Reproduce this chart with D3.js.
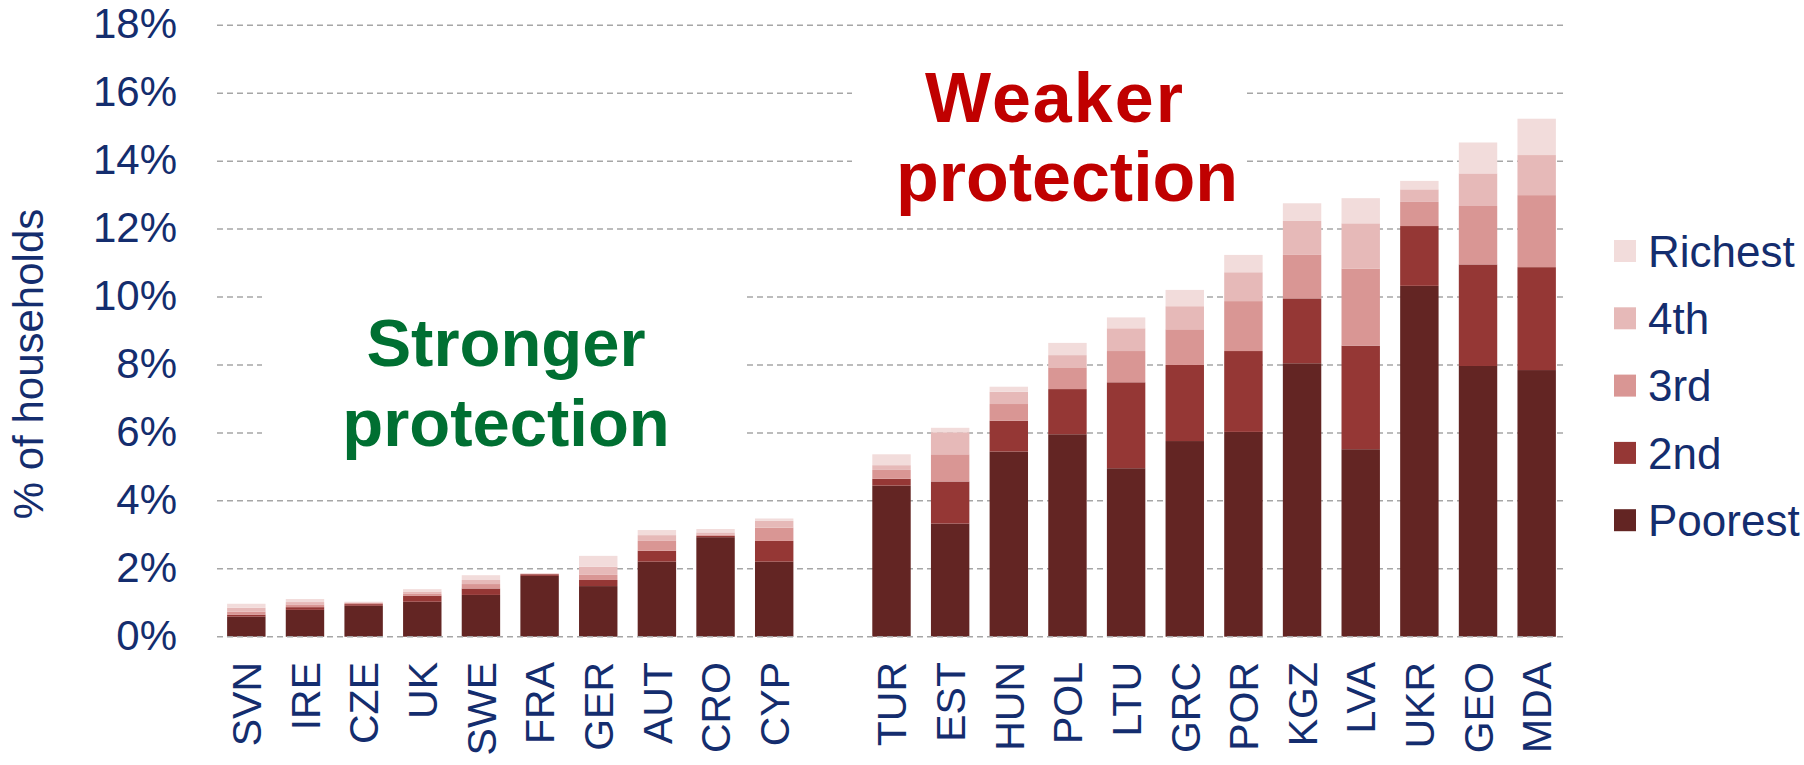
<!DOCTYPE html>
<html>
<head>
<meta charset="utf-8">
<script src="https://cdn.jsdelivr.net/npm/d3@7"></script>
<style>
  html, body { margin: 0; padding: 0; background: #fff; }
  svg { display: block; font-family: "Liberation Sans", Arial, sans-serif; }
</style>
</head>
<body>
<svg id="chart" width="1804" height="765"></svg>
<script>
// ---- data ----
const leftCountries  = ["SVN","IRE","CZE","UK","SWE","FRA","GER","AUT","CRO","CYP"];
const rightCountries = ["TUR","EST","HUN","POL","LTU","GRC","POR","KGZ","LVA","UKR","GEO","MDA"];
const gapKey = "__gap";
const categories = [...leftCountries, gapKey, ...rightCountries];
const countries = [...leftCountries, ...rightCountries];

const poorest = [0.59,0.79,0.91,1.03,1.23,1.79,1.49,2.21,2.93,2.21, 4.45,3.33,5.45,5.96,4.96,5.76,6.03,8.05,5.52,10.33,7.97,7.85];
const second  = [0.06,0.08,0.05,0.18,0.19,0.05,0.18,0.32,0.04,0.61, 0.20,1.24,0.91,1.33,2.53,2.24,2.38,1.91,3.05,1.76,2.99,3.03];
const third   = [0.09,0.08,0.03,0.05,0.13,0.01,0.15,0.29,0.04,0.39, 0.26,0.80,0.49,0.64,0.92,1.05,1.47,1.28,2.27,0.71,1.72,2.12];
const fourth  = [0.11,0.07,0.02,0.07,0.12,0.01,0.24,0.17,0.06,0.20, 0.14,0.65,0.36,0.36,0.67,0.68,0.85,1.00,1.33,0.37,0.96,1.18];
const richest = [0.12,0.09,0.02,0.07,0.14,0.01,0.32,0.15,0.10,0.07, 0.32,0.13,0.15,0.36,0.32,0.48,0.51,0.52,0.74,0.25,0.91,1.07];

const seriesNames = ["Poorest","2nd","3rd","4th","Richest"];
const seriesColors = ["#632523","#953735","#d99694","#e6b9b8","#f2dcdb"];
const legendOrder = ["Richest","4th","3rd","2nd","Poorest"];
const yTicks = [0,2,4,6,8,10,12,14,16,18];

const textNavy = "#142d6e";

// ---- build table ----
const table = countries.map((c, i) => ({
  country: c,
  "Poorest": poorest[i], "2nd": second[i], "3rd": third[i], "4th": fourth[i], "Richest": richest[i]
}));
const stacked = d3.stack().keys(seriesNames)(table);

// ---- scales ----
const svg = d3.select("#chart");
const x = d3.scaleBand().domain(categories).range([217, 1566]).paddingInner(0.345).paddingOuter(0.1725);
const y = d3.scaleLinear().domain([0, 18]).range([636.7, 25.3]);
const color = d3.scaleOrdinal().domain(seriesNames).range(seriesColors);

// ---- gridlines ----
const grid = svg.append("g");
grid.selectAll("line").data(yTicks.filter(t => t !== 0)).join("line")
  .attr("x1", 217).attr("x2", 1566)
  .attr("y1", d => y(d)).attr("y2", d => y(d))
  .attr("stroke", "#a6a6a6").attr("stroke-width", 1.5)
  .attr("stroke-dasharray", "6,4");

// ---- white boxes behind annotations ----
svg.append("rect").attr("x", 262).attr("y", 268).attr("width", 481).attr("height", 200).attr("fill", "#fff");
svg.append("rect").attr("x", 852).attr("y", 50).attr("width", 393).attr("height", 160).attr("fill", "#fff");

// ---- bars ----
svg.append("g").selectAll("g").data(stacked).join("g")
  .attr("fill", d => color(d.key))
  .selectAll("rect").data(d => d).join("rect")
  .attr("x", d => x(d.data.country))
  .attr("width", x.bandwidth())
  .attr("y", d => y(d[1]))
  .attr("height", d => y(d[0]) - y(d[1]));

// zero line on top
svg.append("line")
  .attr("x1", 217).attr("x2", 1566).attr("y1", y(0)).attr("y2", y(0))
  .attr("stroke", "#a6a6a6").attr("stroke-width", 1.5).attr("stroke-dasharray", "6,4");

// ---- y axis ----
const yAxis = d3.axisLeft(y).tickValues(yTicks).tickFormat(d => d + "%").tickSize(0).tickPadding(0);
const yg = svg.append("g").attr("transform", "translate(177,0)").call(yAxis);
yg.select(".domain").remove();
yg.selectAll("text")
  .attr("font-family", "'Liberation Sans', Arial, sans-serif")
  .attr("font-size", 42).attr("fill", textNavy)
  .attr("dy", "0.30em");

// ---- x axis ----
const xAxis = d3.axisBottom(x).tickValues(countries).tickSize(0).tickPadding(0);
const xg = svg.append("g").attr("transform", "translate(0,662)").call(xAxis);
xg.select(".domain").remove();
xg.selectAll("text")
  .attr("font-family", "'Liberation Sans', Arial, sans-serif")
  .attr("font-size", 41).attr("fill", textNavy)
  .attr("text-anchor", "end")
  .attr("transform", "rotate(-90)")
  .attr("x", 0).attr("y", 0)
  .attr("dy", "0.36em");

// ---- y title ----
svg.append("text")
  .attr("transform", "translate(43,364) rotate(-90)")
  .attr("text-anchor", "middle")
  .attr("font-size", 42).attr("fill", textNavy)
  .text("% of households");

// ---- annotations ----
const strong = svg.append("text").attr("text-anchor", "middle")
  .attr("font-size", 67).attr("font-weight", "bold").attr("fill", "#006f32");
strong.append("tspan").attr("x", 506).attr("y", 366).text("Stronger");
strong.append("tspan").attr("x", 506).attr("y", 446).text("protection");

const weak = svg.append("text").attr("text-anchor", "middle")
  .attr("font-size", 70).attr("font-weight", "bold").attr("fill", "#c00000");
weak.append("tspan").attr("x", 1055).attr("y", 122).attr("letter-spacing", 2).text("Weaker");
weak.append("tspan").attr("x", 1067).attr("y", 201).text("protection");

// ---- legend ----
const legend = svg.append("g");
const lg = legend.selectAll("g").data(legendOrder).join("g")
  .attr("transform", (d, i) => `translate(1614, ${251 + i * 67.3})`);
lg.append("rect").attr("x", 0).attr("y", -11).attr("width", 22).attr("height", 22)
  .attr("fill", d => color(d));
lg.append("text").attr("x", 34).attr("y", 0).attr("dy", "0.36em")
  .attr("font-size", 44).attr("fill", textNavy).text(d => d);
</script>
</body>
</html>
